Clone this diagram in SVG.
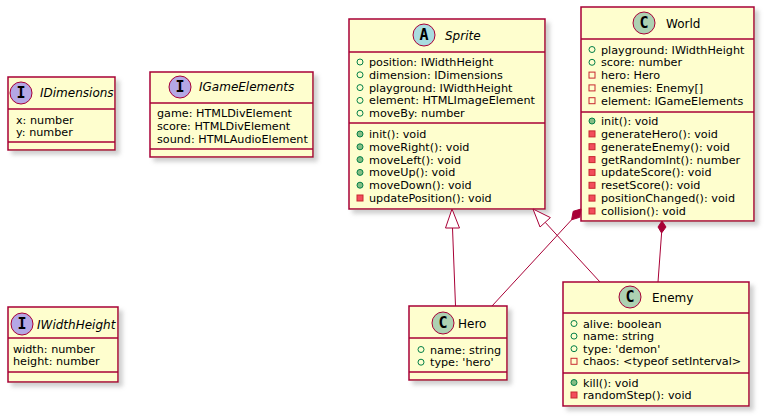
<svg xmlns="http://www.w3.org/2000/svg" width="767" height="418" viewBox="0 0 767 418">
  <defs>
    <filter id="shadow" x="-10%" y="-10%" width="130%" height="130%">
      <feGaussianBlur in="SourceAlpha" stdDeviation="2" result="b"/>
      <feColorMatrix in="b" type="matrix" values="0 0 0 0 0.3  0 0 0 0 0.3  0 0 0 0 0.3  0 0 0 0.45 0" result="c"/>
      <feOffset in="c" dx="4" dy="4" result="o"/>
      <feMerge><feMergeNode in="o"/><feMergeNode in="SourceGraphic"/></feMerge>
    </filter>
  </defs>
  <style>
    .box { fill: #FEFECE; stroke: #A80036; stroke-width: 1.5; filter: url(#shadow); }
    .div { stroke: #A80036; stroke-width: 1.5; }
    .spot { stroke: #A80036; stroke-width: 1; }
    .spotC { fill: #ADD1B2; }
    .spotA { fill: #A9DCDF; }
    .spotI { fill: #B4A7E5; }
    .letter { font-family: "DejaVu Sans Mono", monospace; font-weight: bold; font-size: 15px; fill: #000; text-anchor: middle; }
    .name { font-family: "DejaVu Sans", sans-serif; font-size: 12px; fill: #000; }
    .abs { font-style: italic; }
    .m { font-family: "DejaVu Sans", sans-serif; font-size: 11.2px; fill: #000; }
    .pubF { fill: none; stroke: #038048; stroke-width: 1; }
    .pubM { fill: #84BE84; stroke: #038048; stroke-width: 1; }
    .privF { fill: none; stroke: #C82930; stroke-width: 1; }
    .privM { fill: #F24D5C; stroke: #C82930; stroke-width: 1; }
    .link { fill: none; stroke: #A80036; stroke-width: 1; }
    .ext { fill: #FFFFFF; stroke: #A80036; stroke-width: 1; }
    .comp { fill: #A80036; stroke: #A80036; stroke-width: 1; }
  </style>

  <!-- interface IDimensions -->
  <g id="IDimensions">
    <rect class="box" x="8" y="77" width="107" height="73"/>
    <circle class="spot spotI" cx="21" cy="93" r="11"/>
    <text class="letter" x="21" y="98">I</text>
    <text class="name abs" x="40" y="97">IDimensions</text>
    <line class="div" x1="8" y1="109" x2="115" y2="109"/>
    <text class="m" x="16" y="123.5">x: number</text>
    <text class="m" x="16" y="136.2">y: number</text>
    <line class="div" x1="8" y1="142" x2="115" y2="142"/>
  </g>

  <!-- interface IGameElements -->
  <g id="IGameElements">
    <rect class="box" x="150" y="72" width="163" height="85"/>
    <circle class="spot spotI" cx="180" cy="87" r="11"/>
    <text class="letter" x="180" y="92">I</text>
    <text class="name abs" x="199" y="91">IGameElements</text>
    <line class="div" x1="150" y1="103" x2="313" y2="103"/>
    <text class="m" x="157" y="117.3">game: HTMLDivElement</text>
    <text class="m" x="157" y="130">score: HTMLDivElement</text>
    <text class="m" x="157" y="142.7">sound: HTMLAudioElement</text>
    <line class="div" x1="150" y1="149" x2="313" y2="149"/>
  </g>

  <!-- interface IWidthHeight -->
  <g id="IWidthHeight">
    <rect class="box" x="8" y="307" width="110" height="75"/>
    <circle class="spot spotI" cx="22" cy="324" r="11"/>
    <text class="letter" x="22" y="329">I</text>
    <text class="name abs" x="37" y="328.5">IWidthHeight</text>
    <line class="div" x1="8" y1="338" x2="118" y2="338"/>
    <text class="m" x="13" y="352.5">width: number</text>
    <text class="m" x="13" y="365.3">height: number</text>
    <line class="div" x1="8" y1="372" x2="118" y2="372"/>
  </g>

  <!-- abstract class Sprite -->
  <g id="Sprite">
    <rect class="box" x="349" y="19" width="196" height="190"/>
    <circle class="spot spotA" cx="424" cy="35" r="11"/>
    <text class="letter" x="424" y="40">A</text>
    <text class="name abs" x="445" y="40">Sprite</text>
    <line class="div" x1="349" y1="52" x2="545" y2="52"/>
    <circle class="pubF" cx="360" cy="62" r="3"/>
    <text class="m" x="369" y="66">position: IWidthHeight</text>
    <circle class="pubF" cx="360" cy="74.8" r="3"/>
    <text class="m" x="369" y="78.8">dimension: IDimensions</text>
    <circle class="pubF" cx="360" cy="87.6" r="3"/>
    <text class="m" x="369" y="91.6">playground: IWidthHeight</text>
    <circle class="pubF" cx="360" cy="100.4" r="3"/>
    <text class="m" x="369" y="104.4">element: HTMLImageElement</text>
    <circle class="pubF" cx="360" cy="113.2" r="3"/>
    <text class="m" x="369" y="117.2">moveBy: number</text>
    <line class="div" x1="349" y1="123" x2="545" y2="123"/>
    <circle class="pubM" cx="360" cy="134" r="3"/>
    <text class="m" x="369" y="138">init(): void</text>
    <circle class="pubM" cx="360" cy="146.8" r="3"/>
    <text class="m" x="369" y="150.8">moveRight(): void</text>
    <circle class="pubM" cx="360" cy="159.6" r="3"/>
    <text class="m" x="369" y="163.6">moveLeft(): void</text>
    <circle class="pubM" cx="360" cy="172.4" r="3"/>
    <text class="m" x="369" y="176.4">moveUp(): void</text>
    <circle class="pubM" cx="360" cy="185.2" r="3"/>
    <text class="m" x="369" y="189.2">moveDown(): void</text>
    <rect class="privM" x="357" y="195" width="6" height="6"/>
    <text class="m" x="369" y="202">updatePosition(): void</text>
  </g>

  <!-- class World -->
  <g id="World">
    <rect class="box" x="581" y="7" width="173" height="214"/>
    <circle class="spot spotC" cx="644" cy="23" r="11"/>
    <text class="letter" x="644" y="28">C</text>
    <text class="name" x="666" y="27.5">World</text>
    <line class="div" x1="581" y1="39" x2="754" y2="39"/>
    <circle class="pubF" cx="592" cy="49.5" r="3"/>
    <text class="m" x="601" y="53.5">playground: IWidthHeight</text>
    <circle class="pubF" cx="592" cy="62.3" r="3"/>
    <text class="m" x="601" y="66.3">score: number</text>
    <rect class="privF" x="589" y="72.1" width="6" height="6"/>
    <text class="m" x="601" y="79.1">hero: Hero</text>
    <rect class="privF" x="589" y="84.9" width="6" height="6"/>
    <text class="m" x="601" y="91.9">enemies: Enemy[]</text>
    <rect class="privF" x="589" y="97.7" width="6" height="6"/>
    <text class="m" x="601" y="104.7">element: IGameElements</text>
    <line class="div" x1="581" y1="112" x2="754" y2="112"/>
    <circle class="pubM" cx="592" cy="121" r="3"/>
    <text class="m" x="601" y="125">init(): void</text>
    <rect class="privM" x="589" y="130.9" width="6" height="6"/>
    <text class="m" x="601" y="137.9">generateHero(): void</text>
    <rect class="privM" x="589" y="143.7" width="6" height="6"/>
    <text class="m" x="601" y="150.7">generateEnemy(): void</text>
    <rect class="privM" x="589" y="156.6" width="6" height="6"/>
    <text class="m" x="601" y="163.6">getRandomInt(): number</text>
    <rect class="privM" x="589" y="169.4" width="6" height="6"/>
    <text class="m" x="601" y="176.4">updateScore(): void</text>
    <rect class="privM" x="589" y="182.3" width="6" height="6"/>
    <text class="m" x="601" y="189.3">resetScore(): void</text>
    <rect class="privM" x="589" y="195.1" width="6" height="6"/>
    <text class="m" x="601" y="202.1">positionChanged(): void</text>
    <rect class="privM" x="589" y="208" width="6" height="6"/>
    <text class="m" x="601" y="215">collision(): void</text>
  </g>

  <!-- class Hero -->
  <g id="Hero">
    <rect class="box" x="409" y="306" width="98" height="74"/>
    <circle class="spot spotC" cx="443" cy="323" r="11"/>
    <text class="letter" x="443" y="328">C</text>
    <text class="name" x="458" y="327.5">Hero</text>
    <line class="div" x1="409" y1="338" x2="507" y2="338"/>
    <circle class="pubF" cx="421" cy="349.5" r="3"/>
    <text class="m" x="430" y="353.5">name: string</text>
    <circle class="pubF" cx="421" cy="362.2" r="3"/>
    <text class="m" x="430" y="366.2">type: 'hero'</text>
    <line class="div" x1="409" y1="372" x2="507" y2="372"/>
  </g>

  <!-- class Enemy -->
  <g id="Enemy">
    <rect class="box" x="563" y="282" width="186" height="124"/>
    <circle class="spot spotC" cx="630" cy="297" r="11"/>
    <text class="letter" x="630" y="302">C</text>
    <text class="name" x="652" y="301.5">Enemy</text>
    <line class="div" x1="563" y1="313" x2="749" y2="313"/>
    <circle class="pubF" cx="574" cy="323.5" r="3"/>
    <text class="m" x="583" y="327.5">alive: boolean</text>
    <circle class="pubF" cx="574" cy="336.1" r="3"/>
    <text class="m" x="583" y="340.1">name: string</text>
    <circle class="pubF" cx="574" cy="348.7" r="3"/>
    <text class="m" x="583" y="352.7">type: 'demon'</text>
    <rect class="privF" x="571" y="358.3" width="6" height="6"/>
    <text class="m" x="583" y="365.3">chaos: &lt;typeof setInterval&gt;</text>
    <line class="div" x1="563" y1="373" x2="749" y2="373"/>
    <circle class="pubM" cx="574" cy="382.5" r="3"/>
    <text class="m" x="583" y="386.5">kill(): void</text>
    <rect class="privM" x="571" y="392" width="6" height="6"/>
    <text class="m" x="583" y="399">randomStep(): void</text>
  </g>

  <!-- relations -->
  <g id="connectors">
    <!-- Hero extends Sprite -->
    <path class="link" d="M455.5,306 L452.5,228"/>
    <polygon class="ext" points="452,209 445.5,228 459.5,228"/>
    <!-- Enemy extends Sprite -->
    <path class="link" d="M545.2,222.3 L600,282"/>
    <polygon class="ext" points="533,209 540,227 550.4,217.6"/>
    <!-- World composes Hero -->
    <path class="link" d="M571.6,219.8 L492,306"/>
    <polygon class="comp" points="581,209 579.7,217.3 571.6,219.8 573.2,211.3"/>
    <!-- World composes Enemy -->
    <path class="link" d="M661.6,233 L658,282"/>
    <polygon class="comp" points="662,221 666,227 661.6,233 658,227"/>
  </g>
</svg>
